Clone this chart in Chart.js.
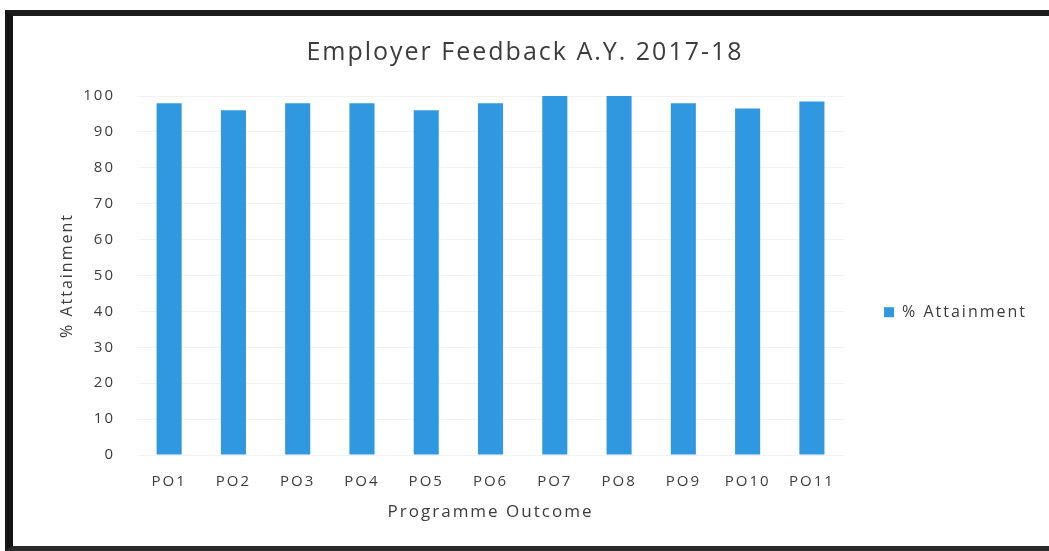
<!DOCTYPE html>
<html>
<head>
<script src="https://cdn.jsdelivr.net/npm/chart.js@4.4.0/dist/chart.umd.min.js"></script>
<style>
  body { margin:0; background:#fff; width:1049px; height:551px; overflow:hidden; position:relative; }
  #frame { position:absolute; left:5px; top:10px; width:1060px; height:541px; box-sizing:border-box;
           border-left:8px solid #151515; border-top:6px solid #1c1c1c; border-bottom:5px solid #2a2a2a; }
  #myChart { position:absolute; left:13px; top:16px; }
</style>
</head>
<body>
<div id="frame"></div>
<canvas id="myChart" width="1036" height="530"></canvas>
<script>
  // values
  var outcomes = ["PO1","PO2","PO3","PO4","PO5","PO6","PO7","PO8","PO9","PO10","PO11"];
  var attainment = [98, 96, 98, 98, 96, 98, 100, 100, 98, 96.5, 98.5];
  var yTicks = [0,10,20,30,40,50,60,70,80,90,100];

  var barColor = '#2f98e1';
  var textColor = '#3c3c3c';
  var fontName = "'Open Sans', sans-serif";

  // the scan is stretched sideways, so widen all text a bit
  // (has to be set after chart.js sizes the canvas, that resets the context)
  var spacingPlugin = {
    id: 'spacing',
    beforeUpdate: function(chart) { chart.ctx.letterSpacing = '2px'; },
    beforeDraw: function(chart) { chart.ctx.letterSpacing = '2px'; }
  };

  var ctx = document.getElementById("myChart").getContext("2d");
  var myBarChart = new Chart(ctx, {
    type: 'bar',
    plugins: [spacingPlugin],
    data: {
      labels: outcomes,
      datasets: [{
        label: "% Attainment",
        data: attainment,
        backgroundColor: barColor,
        borderWidth: 0,
        barPercentage: 0.78,
        categoryPercentage: 0.5
      }]
    },
    options: {
      responsive: false,
      animation: false,
      layout: { padding: { left: 0, right: 12, top: 0, bottom: 0 } },
      plugins: {
        title: {
          display: true,
          text: 'Employer Feedback A.Y. 2017-18',
          color: textColor,
          font: { family: fontName, size: 25, weight: 'normal' },
          padding: { top: 22, bottom: 28 }
        },
        legend: {
          position: 'right',
          title: { display: true, text: ' ', font: { size: 2 }, padding: { top: 60, bottom: 0 } },
          labels: {
            boxWidth: 10, boxHeight: 10,
            color: textColor,
            font: { family: fontName, size: 16 },
            padding: 40
          }
        },
        tooltip: { enabled: false }
      },
      scales: {
        x: {
          grid: { display: false, drawTicks: false },
          border: { display: false },
          ticks: { color: textColor, font: { family: fontName, size: 15 }, padding: 18, maxRotation: 0 },
          title: { display: true, text: 'Programme Outcome', color: textColor,
                   font: { family: fontName, size: 17 }, padding: { top: 8, bottom: 24 } },
          afterFit: function(s) { s.height = 91; }
        },
        y: {
          min: 0, max: 100,
          afterBuildTicks: function(s) { s.ticks = yTicks.map(function(v){ return { value: v }; }); },
          grid: { color: 'rgba(0,0,0,0.05)', drawTicks: false },
          border: { display: false },
          ticks: { color: textColor, font: { family: fontName, size: 15 }, padding: 22 },
          title: { display: true, text: '% Attainment', color: textColor,
                   font: { family: fontName, size: 16 }, padding: { top: 45, bottom: 0 } },
          afterFit: function(s) { s.width = 124; }
        }
      }
    }
  });
</script>
</body>
</html>
